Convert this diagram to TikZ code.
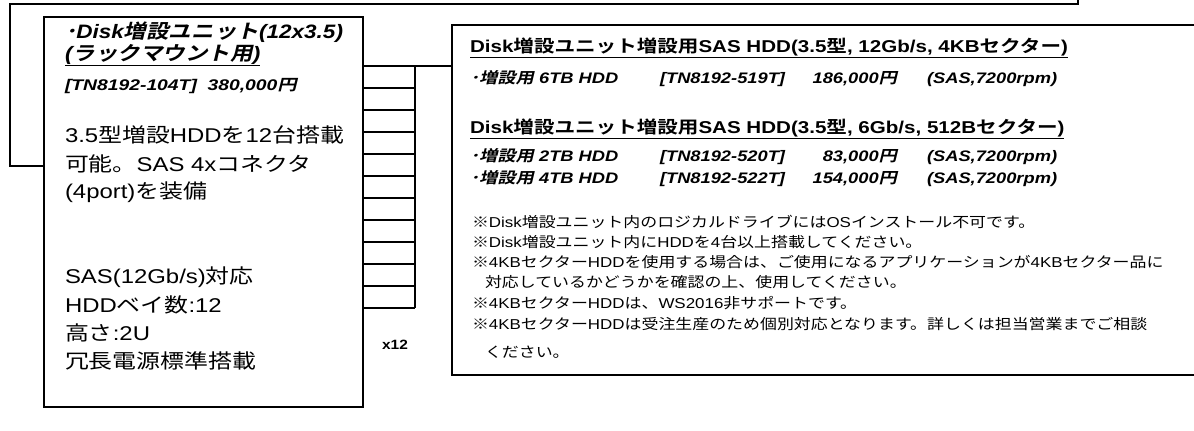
\documentclass[tikz,border=0pt]{standalone}
\usepackage{fontspec}
\setmainfont{Liberation Sans}
\newfontfamily\jp{Noto Sans CJK JP}[ItalicFont={Noto Sans CJK JP}, ItalicFeatures={FakeSlant=0.2}, BoldFont={Noto Sans CJK JP Bold}, BoldItalicFont={Noto Sans CJK JP Bold}, BoldItalicFeatures={FakeSlant=0.2}]
\XeTeXinterchartokenstate=1
\newXeTeXintercharclass\jpclass
\newcount\jpcc
\def\setjprange#1#2{\jpcc=#1\relax\loop\XeTeXcharclass\jpcc=\jpclass\relax\ifnum\jpcc<#2\relax\advance\jpcc by 1 \repeat}
\setjprange{"3000}{"30FF}
\setjprange{"4E00}{"9FFF}
\setjprange{"FF00}{"FFEF}
\XeTeXcharclass"203B=\jpclass
\XeTeXinterchartoks 0 \jpclass={\jp}
\XeTeXinterchartoks 4095 \jpclass={\jp}
\XeTeXinterchartoks \jpclass 0={\rmfamily}
\XeTeXinterchartoks \jpclass 4095={\rmfamily}
\newcommand\fs[2]{\fontsize{#1}{#2}\selectfont}
\tikzset{
  box/.style={draw, line width=2pt, rectangle, inner sep=0pt, outer sep=0pt},
  wire/.style={line width=2pt},
  txt/.style={anchor=base west, inner sep=0pt, outer sep=0pt},
  txtr/.style={anchor=base east, inner sep=0pt, outer sep=0pt},
  ltitle/.style={font=\bfseries\itshape\fs{19.5}{22}, xscale=1.16},
  lcode/.style={font=\bfseries\itshape\fs{15.5}{18}, xscale=1.25},
  lbody/.style={font=\fs{20}{22}, xscale=1.2},
  rtitle/.style={font=\bfseries\fs{17.2}{20}, xscale=1.2},
  ritem/.style={font=\bfseries\itshape\fs{15.3}{18}, xscale=1.2},
  rnote/.style={font=\fs{14.4}{17}, xscale=1.18},
  countlbl/.style={font=\bfseries\fs{13.5}{15}, inner sep=0pt, xscale=1.15}
}
\begin{document}
\begin{tikzpicture}[x=1bp,y=-1bp]
\useasboundingbox (0,0) rectangle (1194,430);
\clip (0,0) rectangle (1194,430);
% boxes
\node[box, minimum width=319bp, minimum height=390bp, anchor=north west] (leftbox) at (44,17) {};
\node[box, minimum width=800bp, minimum height=350bp, anchor=north west] (rightbox) at (452,25) {};
% outer connector
\coordinate (otop) at (1078,-6);
\coordinate (ocorner) at (10,4);
\coordinate (lbin) at (44,166);
\draw[wire] (otop) |- (ocorner) |- (lbin);
% port ladder
\foreach \i in {0,...,11}{
  \coordinate (rung\i) at (415,{66+22*\i});
  \draw[wire] (leftbox.east |- rung\i) -- (rung\i);
}
\draw[wire] (rung0) -- (rung11);
\draw[wire] (rung0) -- (rightbox.west |- rung0);
\node[countlbl] (x12) at (395,345) {x12};
% left box texts
\node[txt, ltitle] (lt1) at (65,38) {･Disk増設ユニット(12x3.5)};
\node[txt, ltitle] (lt2) at (65,60) {\underline{(ラックマウント用)}};
\node[txt, lcode] (lt3) at (65,90) {[TN8192-104T]\ \ 380,000円};
\node[txt, lbody] (lb1) at (65,142) {3.5型増設HDDを12台搭載};
\node[txt, lbody] (lb2) at (65,171) {可能。SAS 4xコネクタ};
\node[txt, lbody] (lb3) at (65,198) {(4port)を装備};
\node[txt, lbody] (lb4) at (65,283) {SAS(12Gb/s)対応};
\node[txt, lbody] (lb5) at (65,312) {HDDベイ数:12};
\node[txt, lbody] (lb6) at (65,340) {高さ:2U};
\node[txt, lbody] (lb7) at (65,368) {冗長電源標準搭載};
% right box texts
\node[txt, rtitle] (rt1) at (470,52) {\underline{Disk増設ユニット増設用SAS HDD(3.5型, 12Gb/s, 4KBセクター)}};
\node[txt, ritem] (i1a) at (470,83) {･増設用 6TB HDD};
\node[txt, ritem] (i1b) at (660,83) {[TN8192-519T]};
\node[txtr, ritem] (i1c) at (897,83) {186,000円};
\node[txt, ritem] (i1d) at (927,83) {(SAS,7200rpm)};
\node[txt, rtitle] (rt2) at (470,133) {\underline{Disk増設ユニット増設用SAS HDD(3.5型, 6Gb/s, 512Bセクター)}};
\node[txt, ritem] (i2a) at (470,161) {･増設用 2TB HDD};
\node[txt, ritem] (i2b) at (660,161) {[TN8192-520T]};
\node[txtr, ritem] (i2c) at (897,161) {83,000円};
\node[txt, ritem] (i2d) at (927,161) {(SAS,7200rpm)};
\node[txt, ritem] (i3a) at (470,183) {･増設用 4TB HDD};
\node[txt, ritem] (i3b) at (660,183) {[TN8192-522T]};
\node[txtr, ritem] (i3c) at (897,183) {154,000円};
\node[txt, ritem] (i3d) at (927,183) {(SAS,7200rpm)};
\node[txt, rnote] (n1) at (472,227) {※Disk増設ユニット内のロジカルドライブにはOSインストール不可です。};
\node[txt, rnote] (n2) at (472,247) {※Disk増設ユニット内にHDDを4台以上搭載してください。};
\node[txt, rnote] (n3) at (472,267) {※4KBセクターHDDを使用する場合は、ご使用になるアプリケーションが4KBセクター品に};
\node[txt, rnote] (n4) at (485,287) {対応しているかどうかを確認の上、使用してください。};
\node[txt, rnote] (n5) at (472,308) {※4KBセクターHDDは、WS2016非サポートです。};
\node[txt, rnote] (n6) at (472,329) {※4KBセクターHDDは受注生産のため個別対応となります。詳しくは担当営業までご相談};
\node[txt, rnote] (n7) at (485,357) {ください。};
\end{tikzpicture}
\end{document}
